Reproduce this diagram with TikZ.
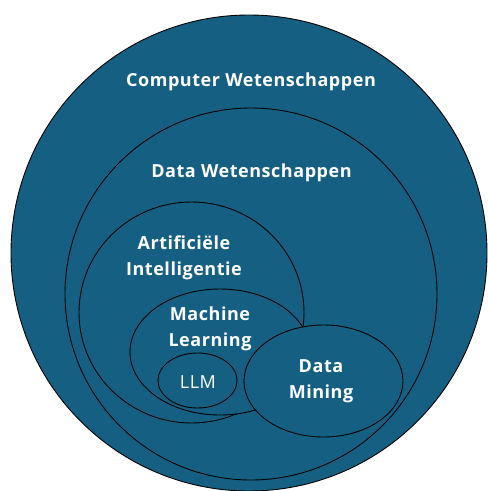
\documentclass[tikz,border=0pt]{standalone}
\usepackage{fontspec}
\setmainfont[LetterSpace=3]{Open Sans}
\usetikzlibrary{shapes.geometric}
\definecolor{setfill}{HTML}{156082}
\tikzset{
  setshape/.style={ellipse, draw=black, line width=0.9pt, fill=setfill, inner sep=0pt},
  settext/.style={text=white, font=\bfseries\fontsize{18}{26}\selectfont, align=center, inner sep=0pt},
}
\begin{document}
\begin{tikzpicture}[x=1pt,y=-1pt]
\useasboundingbox (0,0) rectangle (488,491);
\clip (0,0) rectangle (488,491);
\fill[white] (0,0) rectangle (488,491);
\node[setshape, minimum width=476pt, minimum height=476pt] (cs) at (249,253) {};
\node[setshape, minimum width=372pt, minimum height=372pt] (ds) at (251,294) {};
\node[setshape, minimum width=225pt, minimum height=221pt] (ai) at (191.5,312.5) {};
\node[setshape, minimum width=180pt, minimum height=126pt] (ml) at (220,352) {};
\node[setshape, minimum width=79pt, minimum height=55pt] (llm) at (197.5,380.5) {};
\node[setshape, minimum width=159pt, minimum height=112pt] (dm) at (323.5,381) {};
\node[settext] (cst) at (251,82) {Computer Wetenschappen};
\node[settext] (dst) at (251.5,173) {Data Wetenschappen};
\node[settext] (ait) at (184,258) {Artificiële\\Intelligentie};
\node[settext] (mlt) at (210,329) {Machine\\Learning};
\node[settext, font=\fontsize{18}{20}\selectfont] (llmt) at (198,382) {LLM};
\node[settext] (dmt) at (321,381.5) {Data\\Mining};
\end{tikzpicture}
\end{document}
